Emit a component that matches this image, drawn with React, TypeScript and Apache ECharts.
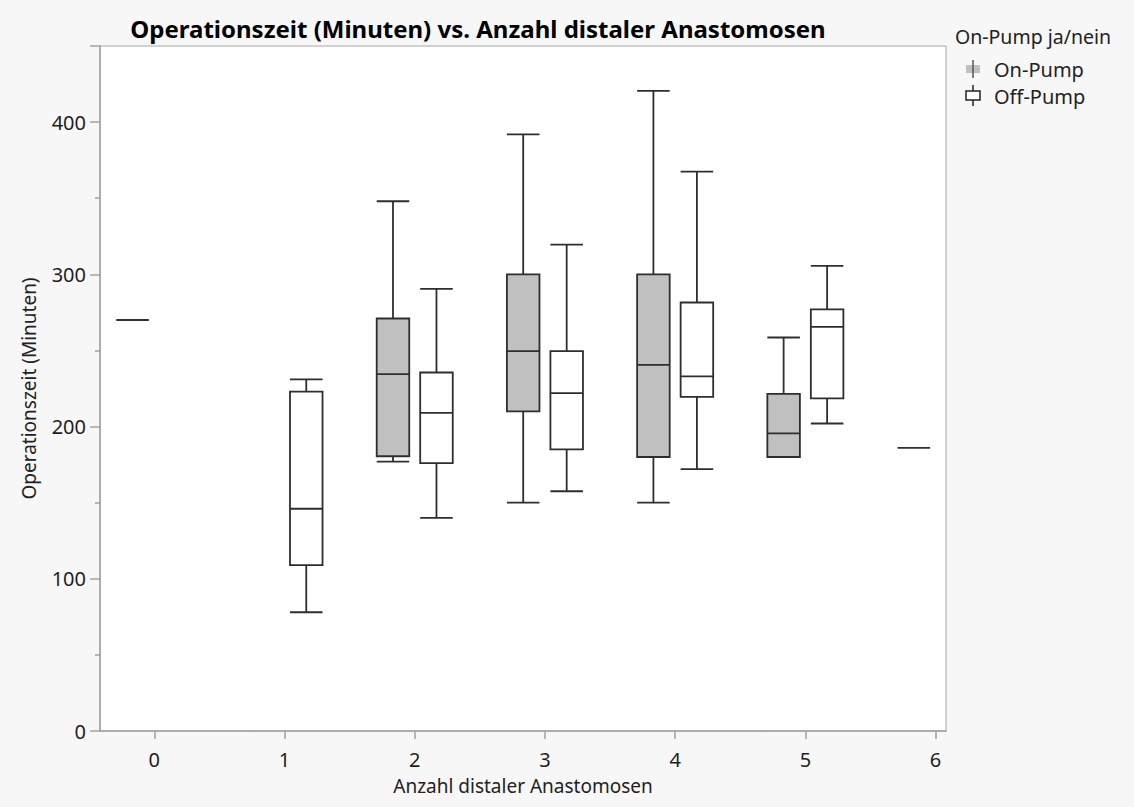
import React, { useEffect, useRef } from "react";
import * as echarts from "echarts";

// ---- data ----
const xTicks = [0, 1, 2, 3, 4, 5, 6];
const yTicks = [0, 100, 200, 300, 400];

// On-Pump: categories and [min, q1, median, q3, max]
const onPumpCats = [0, 2, 3, 4, 5, 6];
const onPumpStats = [
  [270, 270, 270, 270, 270],
  [177, 180.5, 234.5, 271, 348],
  [150, 210, 249.5, 300, 392],
  [150, 180, 240.5, 300, 420.5],
  [180, 180, 195.5, 221.5, 258.5],
  [186, 186, 186, 186, 186],
];

// Off-Pump
const offPumpCats = [1, 2, 3, 4, 5];
const offPumpStats = [
  [78, 109, 146, 223, 231],
  [140, 176, 209, 235.5, 290.5],
  [157.5, 185, 222, 249.5, 319.5],
  [172, 219.5, 233, 281.5, 367.5],
  [202, 218.5, 265.5, 277, 305.5],
];

const seriesNames = ["On-Pump", "Off-Pump"];
const titleText = "Operationszeit (Minuten) vs. Anzahl distaler Anastomosen";
const xName = "Anzahl distaler Anastomosen";
const yName = "Operationszeit (Minuten)";
const legendTitle = "On-Pump ja/nein";

const FONT = '"Noto Sans", "Open Sans", sans-serif';
const LINE = "#2e2e2e";
const AXIS = "#a0a0a0";
const BOX_W = 0.25;

function makeRender(offset: number, fill: string) {
  return (params: any, api: any) => {
    const x = api.value(0) + offset;
    const lo = api.value(1);
    const q1 = api.value(2);
    const med = api.value(3);
    const q3 = api.value(4);
    const hi = api.value(5);
    const half = api.size([BOX_W, 0])[0] / 2;
    const pLo = api.coord([x, lo]);
    const pQ1 = api.coord([x, q1]);
    const pMed = api.coord([x, med]);
    const pQ3 = api.coord([x, q3]);
    const pHi = api.coord([x, hi]);
    const cx = pMed[0];
    const st = { stroke: LINE, lineWidth: 1.8 };
    const children: any[] = [];
    if (hi > q3) {
      children.push({ type: "line", shape: { x1: cx, y1: pHi[1], x2: cx, y2: pQ3[1] }, style: st });
      children.push({ type: "line", shape: { x1: cx - half, y1: pHi[1], x2: cx + half, y2: pHi[1] }, style: st });
    }
    if (lo < q1) {
      children.push({ type: "line", shape: { x1: cx, y1: pQ1[1], x2: cx, y2: pLo[1] }, style: st });
      children.push({ type: "line", shape: { x1: cx - half, y1: pLo[1], x2: cx + half, y2: pLo[1] }, style: st });
    }
    if (q3 > q1) {
      children.push({
        type: "rect",
        shape: { x: cx - half, y: pQ3[1], width: half * 2, height: pQ1[1] - pQ3[1] },
        style: { fill, stroke: LINE, lineWidth: 1.8 },
      });
    }
    children.push({ type: "line", shape: { x1: cx - half, y1: pMed[1], x2: cx + half, y2: pMed[1] }, style: st });
    return { type: "group", children };
  };
}

export default function App() {
  const ref = useRef<HTMLDivElement>(null);
  useEffect(() => {
    if (!ref.current) return;
    const chart = echarts.init(ref.current, undefined, { renderer: "svg" });
    const onData = onPumpCats.map((c, i) => [c, ...onPumpStats[i]]);
    const offData = offPumpCats.map((c, i) => [c, ...offPumpStats[i]]);
    const option: any = {
      animation: false,
      backgroundColor: "#f7f7f7",
      textStyle: { fontFamily: FONT },
      grid: {
        left: 100,
        right: 188,
        top: 46,
        bottom: 76,
        show: true,
        backgroundColor: "#ffffff",
        borderColor: "#a8a8a8",
        borderWidth: 1,
      },
      xAxis: {
        type: "value",
        min: -0.417,
        max: 6.08,
        minInterval: 1,
        maxInterval: 1,
        name: xName,
        nameLocation: "middle",
        nameGap: 45,
        nameTextStyle: { fontSize: 19, color: "#222", fontFamily: FONT },
        axisLine: { show: true, onZero: false, lineStyle: { color: AXIS, width: 1.5 } },
        axisTick: { show: true, length: 8, lineStyle: { color: AXIS, width: 1.5 }, customValues: xTicks },
        axisLabel: {
          margin: 18,
          fontSize: 20,
          color: "#1e1e1e",
          fontFamily: FONT,
          customValues: xTicks,
        },
        splitLine: { show: false },
      },
      yAxis: {
        type: "value",
        min: 0,
        max: 450,
        interval: 100,
        name: yName,
        nameLocation: "middle",
        nameGap: 62,
        nameTextStyle: { fontSize: 19, color: "#222", fontFamily: FONT },
        axisLine: { show: true, onZero: false, lineStyle: { color: AXIS, width: 1.5 } },
        axisTick: { show: true, length: 10, lineStyle: { color: AXIS, width: 1.5 } },
        minorTick: { show: true, splitNumber: 2, length: 5, lineStyle: { color: AXIS, width: 1.5 } },
        axisLabel: {
          margin: 14,
          fontSize: 20,
          color: "#1e1e1e",
          fontFamily: FONT,
          customValues: yTicks,
        },
        splitLine: { show: false },
        minorSplitLine: { show: false },
      },
      series: [
        {
          name: seriesNames[0],
          type: "custom",
          renderItem: makeRender(-0.167, "#c0c0c0"),
          encode: { x: 0, y: [1, 2, 3, 4, 5] },
          data: onData,
          clip: false,
        },
        {
          name: seriesNames[1],
          type: "custom",
          renderItem: makeRender(0.167, "#ffffff"),
          encode: { x: 0, y: [1, 2, 3, 4, 5] },
          data: offData,
          clip: false,
        },
      ],
      graphic: [
        {
          type: "text",
          x: 478,
          y: 28,
          style: {
            text: titleText,
            fill: "#000",
            fontSize: 24,
            fontWeight: "bold",
            fontFamily: FONT,
            align: "center",
            verticalAlign: "middle",
          },
        },
        {
          type: "text",
          x: 955,
          y: 36,
          style: {
            text: legendTitle,
            fill: "#222",
            fontSize: 19.5,
            fontFamily: FONT,
            align: "left",
            verticalAlign: "middle",
          },
        },
        { type: "rect", shape: { x: 966, y: 65, width: 14, height: 8 }, style: { fill: "#c0c0c0" } },
        { type: "line", shape: { x1: 973, y1: 60, x2: 973, y2: 78 }, style: { stroke: "#555", lineWidth: 1.5 } },
        {
          type: "text",
          x: 994,
          y: 69,
          style: { text: seriesNames[0], fill: "#222", fontSize: 20, fontFamily: FONT, align: "left", verticalAlign: "middle" },
        },
        { type: "line", shape: { x1: 973, y1: 85, x2: 973, y2: 106 }, style: { stroke: "#222", lineWidth: 1.5 } },
        { type: "rect", shape: { x: 966, y: 91, width: 14, height: 9 }, style: { fill: "#fff", stroke: "#222", lineWidth: 1.5 } },
        {
          type: "text",
          x: 994,
          y: 96,
          style: { text: seriesNames[1], fill: "#222", fontSize: 20, fontFamily: FONT, align: "left", verticalAlign: "middle" },
        },
      ],
    };
    chart.setOption(option);
    return () => chart.dispose();
  }, []);
  return (
    <div
      ref={ref}
      style={{ position: "fixed", left: 0, top: 0, width: 1134, height: 807 }}
    />
  );
}
